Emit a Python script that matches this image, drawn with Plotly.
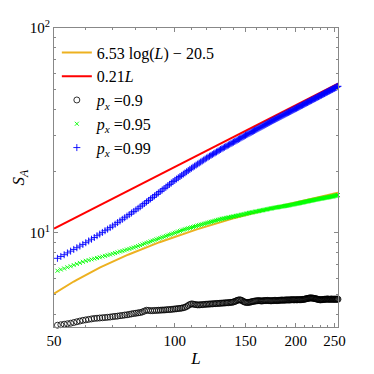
import numpy as np
import plotly.graph_objects as go

# 데이터
L = list(range(50, 256))

# p_x = 0.9
s_090 = [
    3.52, 3.54, 3.56, 3.58, 3.60, 3.62, 3.65, 3.68, 3.71, 3.74,
    3.76, 3.78, 3.80, 3.82, 3.83, 3.84, 3.85, 3.86, 3.87, 3.88,
    3.90, 3.91, 3.92, 3.94, 3.95, 3.97, 3.98, 4.00, 4.02, 4.04,
    4.05, 4.07, 4.08, 4.11, 4.15, 4.19, 4.18, 4.17, 4.17, 4.18,
    4.18, 4.19, 4.19, 4.20, 4.20, 4.21, 4.22, 4.22, 4.23, 4.24,
    4.25, 4.26, 4.27, 4.28, 4.29, 4.31, 4.33, 4.37, 4.42, 4.47,
    4.50, 4.49, 4.47, 4.46, 4.45, 4.45, 4.46, 4.46, 4.47, 4.48,
    4.48, 4.49, 4.49, 4.50, 4.50, 4.51, 4.51, 4.52, 4.52, 4.53,
    4.53, 4.54, 4.54, 4.55, 4.55, 4.56, 4.56, 4.57, 4.58, 4.58,
    4.60, 4.62, 4.65, 4.68, 4.70, 4.71, 4.70, 4.67, 4.63, 4.60,
    4.58, 4.57, 4.57, 4.58, 4.59, 4.60, 4.62, 4.63, 4.64, 4.65,
    4.66, 4.66, 4.67, 4.66, 4.65, 4.65, 4.66, 4.67, 4.67, 4.67,
    4.68, 4.67, 4.67, 4.66, 4.66, 4.67, 4.67, 4.68, 4.68, 4.67,
    4.67, 4.68, 4.68, 4.69, 4.69, 4.70, 4.69, 4.69, 4.70, 4.70,
    4.70, 4.71, 4.70, 4.70, 4.71, 4.71, 4.72, 4.71, 4.71, 4.71,
    4.72, 4.71, 4.71, 4.72, 4.72, 4.71, 4.72, 4.72, 4.73, 4.73,
    4.74, 4.75, 4.76, 4.77, 4.78, 4.79, 4.80, 4.81, 4.81, 4.81,
    4.80, 4.80, 4.79, 4.78, 4.77, 4.76, 4.75, 4.74, 4.73, 4.72,
    4.71, 4.71, 4.72, 4.72, 4.73, 4.73, 4.74, 4.74, 4.74, 4.75,
    4.75, 4.75, 4.74, 4.74, 4.74, 4.75, 4.75, 4.74, 4.74, 4.74,
    4.75, 4.74, 4.74, 4.74, 4.75, 4.74,
]

# p_x = 0.95
s_095 = [
    6.45, 6.53, 6.62, 6.70, 6.79, 6.87, 6.96, 7.05, 7.13, 7.22,
    7.30, 7.36, 7.42, 7.48, 7.54, 7.60, 7.66, 7.72, 7.78, 7.84,
    7.90, 7.97, 8.03, 8.10, 8.16, 8.22, 8.29, 8.35, 8.42, 8.48,
    8.55, 8.62, 8.70, 8.78, 8.86, 8.93, 9.00, 9.08, 9.15, 9.23,
    9.30, 9.37, 9.44, 9.51, 9.58, 9.65, 9.72, 9.79, 9.86, 9.93,
    10.00, 10.07, 10.14, 10.21, 10.28, 10.35, 10.41, 10.46, 10.52, 10.57,
    10.63, 10.68, 10.74, 10.79, 10.85, 10.90, 10.95, 11.00, 11.06, 11.11,
    11.16, 11.21, 11.26, 11.31, 11.36, 11.41, 11.46, 11.51, 11.56, 11.61,
    11.66, 11.70, 11.73, 11.77, 11.81, 11.84, 11.88, 11.91, 11.95, 11.99,
    12.02, 12.06, 12.09, 12.13, 12.16, 12.20, 12.23, 12.27, 12.30, 12.34,
    12.38, 12.42, 12.46, 12.50, 12.53, 12.56, 12.59, 12.62, 12.66, 12.69,
    12.72, 12.75, 12.78, 12.81, 12.85, 12.88, 12.91, 12.94, 12.97, 13.00,
    13.04, 13.07, 13.10, 13.13, 13.16, 13.20, 13.22, 13.25, 13.27, 13.30,
    13.32, 13.35, 13.37, 13.40, 13.42, 13.45, 13.47, 13.50, 13.52, 13.55,
    13.57, 13.60, 13.62, 13.65, 13.67, 13.70, 13.73, 13.76, 13.79, 13.82,
    13.84, 13.87, 13.90, 13.93, 13.96, 13.99, 14.02, 14.05, 14.07, 14.10,
    14.13, 14.16, 14.19, 14.22, 14.24, 14.27, 14.30, 14.33, 14.36, 14.38,
    14.41, 14.44, 14.46, 14.49, 14.51, 14.54, 14.57, 14.59, 14.62, 14.64,
    14.67, 14.69, 14.71, 14.74, 14.76, 14.78, 14.81, 14.83, 14.85, 14.87,
    14.90, 14.92, 14.94, 14.96, 14.99, 15.01, 15.04, 15.06, 15.08, 15.11,
    15.14, 15.17, 15.20, 15.23, 15.26, 15.30,
]

# p_x = 0.99
s_099 = [
    7.35, 7.51, 7.67, 7.82, 7.98, 8.14, 8.30, 8.46, 8.62, 8.78,
    8.95, 9.13, 9.31, 9.49, 9.68, 9.86, 10.05, 10.24, 10.42, 10.61,
    10.80, 11.01, 11.22, 11.43, 11.64, 11.85, 12.07, 12.28, 12.50, 12.72,
    12.94, 13.17, 13.41, 13.66, 13.90, 14.15, 14.39, 14.64, 14.89, 15.15,
    15.40, 15.66, 15.92, 16.18, 16.44, 16.71, 16.97, 17.24, 17.51, 17.79,
    18.06, 18.31, 18.57, 18.83, 19.09, 19.35, 19.61, 19.87, 20.14, 20.41,
    20.67, 20.92, 21.17, 21.42, 21.67, 21.92, 22.17, 22.42, 22.67, 22.93,
    23.18, 23.42, 23.65, 23.88, 24.11, 24.35, 24.58, 24.82, 25.05, 25.29,
    25.53, 25.74, 25.96, 26.18, 26.40, 26.61, 26.83, 27.05, 27.27, 27.49,
    27.71, 27.93, 28.15, 28.37, 28.59, 28.81, 29.04, 29.26, 29.48, 29.70,
    29.93, 30.14, 30.35, 30.56, 30.77, 30.99, 31.20, 31.41, 31.63, 31.84,
    32.05, 32.27, 32.48, 32.70, 32.91, 33.13, 33.34, 33.55, 33.77, 33.99,
    34.20, 34.42, 34.63, 34.85, 35.06, 35.28, 35.49, 35.69, 35.89, 36.10,
    36.30, 36.51, 36.71, 36.92, 37.12, 37.33, 37.53, 37.74, 37.94, 38.15,
    38.35, 38.56, 38.76, 38.97, 39.17, 39.38, 39.58, 39.79, 39.99, 40.20,
    40.40, 40.61, 40.82, 41.03, 41.24, 41.44, 41.65, 41.86, 42.07, 42.28,
    42.49, 42.70, 42.90, 43.12, 43.32, 43.53, 43.74, 43.95, 44.16, 44.37,
    44.58, 44.79, 45.00, 45.21, 45.42, 45.63, 45.84, 46.04, 46.26, 46.46,
    46.68, 46.88, 47.09, 47.31, 47.51, 47.73, 47.93, 48.15, 48.36, 48.57,
    48.78, 48.99, 49.20, 49.41, 49.62, 49.83, 50.04, 50.25, 50.47, 50.68,
    50.89, 51.10, 51.31, 51.52, 51.73, 51.94,
]

# 범례에 적힌 맞춤선 계수
fit_log_a = 6.53
fit_log_b = -20.5
fit_lin_a = 0.21

x_ticks = [50, 100, 150, 200, 250]
x_minor = [60, 70, 80, 90, 110, 120, 130, 140, 160, 170, 180, 190, 210, 220, 230, 240]
y_ticks = [10, 100]
y_ticktext = ['10<sup>1</sup>', '10<sup>2</sup>']
y_minor = [4, 5, 6, 7, 8, 9, 20, 30, 40, 50, 60, 70, 80, 90]

Lv = np.array(L, dtype=float)
fit_log = fit_log_a * np.log(Lv) + fit_log_b
fit_lin = fit_lin_a * Lv

fig = go.Figure()
fig.add_trace(go.Scatter(
    x=L, y=fit_log, mode='lines', name='6.53 log(<i>L</i>) \u2212 20.5',
    line=dict(color='#EDB120', width=2)))
fig.add_trace(go.Scatter(
    x=L, y=fit_lin, mode='lines', name='0.21<i>L</i>',
    line=dict(color='#FF0000', width=2)))
fig.add_trace(go.Scatter(
    x=L, y=s_090, mode='markers', name='<i>p<sub>x</sub></i> =0.9', cliponaxis=False,
    marker=dict(symbol='circle-open', size=6, color='black', line=dict(width=0.8))))
fig.add_trace(go.Scatter(
    x=L, y=s_095, mode='markers', name='<i>p<sub>x</sub></i> =0.95', cliponaxis=False,
    marker=dict(symbol='x-thin-open', size=4, color='#00FF00', line=dict(width=0.9, color='#00FF00'))))
fig.add_trace(go.Scatter(
    x=L, y=s_099, mode='markers', name='<i>p<sub>x</sub></i> =0.99', cliponaxis=False,
    marker=dict(symbol='cross-thin-open', size=5, color='#0000FF', line=dict(width=0.9, color='#0000FF'))))

axis_common = dict(
    type='log', showgrid=False, zeroline=False, automargin=False,
    showline=True, linecolor='#888888', linewidth=1, mirror='ticks',
    ticks='inside', ticklen=4, tickcolor='#888888',
    tickfont=dict(size=15, color='black'),
)

# 페이지 body 여백(8px)을 감안한 크기
fig.update_layout(
    {
        'width': 366, 'height': 366,
        'margin': {'l': 46, 'r': 36, 't': 20, 'b': 47},
        'paper_bgcolor': 'white', 'plot_bgcolor': 'white',
        'font': {'family': 'Liberation Serif', 'size': 15, 'color': 'black'},
        'xaxis': dict(axis_common, range=[np.log10(50), np.log10(255)],
                      tickvals=x_ticks, ticktext=[str(v) for v in x_ticks],
                      minor=dict(tickvals=x_minor, ticks='inside', ticklen=2, tickcolor='#888888'),
                      title={'text': '<i>L</i>', 'font': {'size': 17}, 'standoff': 4}),
        'yaxis': dict(axis_common, range=[np.log10(3.47), 2],
                      tickvals=y_ticks, ticktext=y_ticktext,
                      minor=dict(tickvals=y_minor, ticks='inside', ticklen=2, tickcolor='#888888'),
                      title={'text': '<i>S</i><sub><i>A</i></sub>', 'font': {'size': 17}, 'standoff': 0}),
        'showlegend': True,
        'legend': {'x': 0.01, 'y': 0.975, 'xanchor': 'left', 'yanchor': 'top',
                   'bgcolor': 'rgba(0,0,0,0)', 'font': {'size': 16},
                   'itemwidth': 30, 'tracegroupgap': 0},
    })

fig.write_html("out.html")
